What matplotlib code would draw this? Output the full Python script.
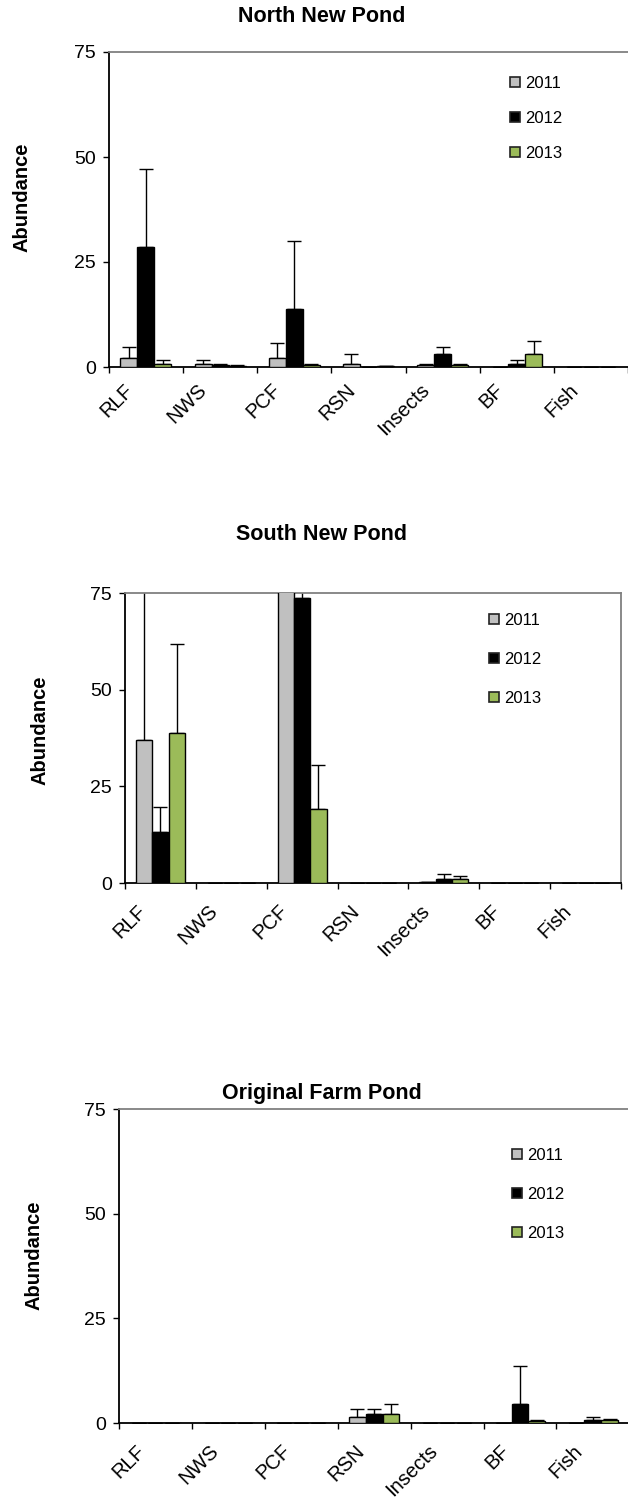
import matplotlib
matplotlib.use("Agg")
import matplotlib.pyplot as plt
import matplotlib.transforms as mtransforms
from matplotlib.patches import Patch
import numpy as np

plt.rcParams['font.family'] = ['Liberation Sans', 'DejaVu Sans']

categories = ['RLF', 'NWS', 'PCF', 'RSN', 'Insects', 'BF', 'Fish']
years = ['2011', '2012', '2013']
yticks = [0, 25, 50, 75]

# North New Pond
north_2011 = [2.1, 0.8, 2.1, 0.8, 0.5, 0.0, 0.0]
north_2011_err = [2.7, 0.9, 3.6, 2.2, 0.3, 0.0, 0.0]
north_2012 = [28.6, 0.5, 13.7, 0.0, 3.2, 0.8, 0.0]
north_2012_err = [18.6, 0.3, 16.3, 0.0, 1.6, 0.8, 0.0]
north_2013 = [0.6, 0.2, 0.5, 0.2, 0.5, 3.2, 0.0]
north_2013_err = [1.0, 0.2, 0.3, 0.1, 0.3, 3.1, 0.0]

# South New Pond
south_2011 = [37.1, 0.0, 80.0, 0.0, 0.3, 0.0, 0.0]
south_2011_err = [45.0, 0.0, 10.0, 0.0, 0.0, 0.0, 0.0]
south_2012 = [13.2, 0.0, 73.8, 0.0, 1.1, 0.0, 0.0]
south_2012_err = [6.4, 0.0, 8.0, 0.0, 1.3, 0.0, 0.0]
south_2013 = [38.9, 0.0, 19.1, 0.0, 1.1, 0.0, 0.0]
south_2013_err = [22.8, 0.0, 11.3, 0.0, 0.6, 0.0, 0.0]

# Original Farm Pond
farm_2011 = [0.0, 0.0, 0.0, 1.4, 0.0, 0.0, 0.0]
farm_2011_err = [0.0, 0.0, 0.0, 2.0, 0.0, 0.0, 0.0]
farm_2012 = [0.0, 0.0, 0.0, 2.1, 0.0, 4.5, 0.8]
farm_2012_err = [0.0, 0.0, 0.0, 1.3, 0.0, 9.1, 0.55]
farm_2013 = [0.0, 0.0, 0.0, 2.1, 0.0, 0.5, 0.8]
farm_2013_err = [0.0, 0.0, 0.0, 2.4, 0.0, 0.1, 0.2]

colors = ['#C0C0C0', '#000000', '#9BBB59']

W, H = 628, 1508
fig = plt.figure(figsize=(W / 100, H / 100), dpi=100)

panels = [
    dict(title='North New Pond', vals=[north_2011, north_2012, north_2013],
         errs=[north_2011_err, north_2012_err, north_2013_err],
         x0=108.8, x1=628.2, ytop=52, ybot=367, right=False,
         title_xy=(322, 17), ylab_xy=(22, 197), leg_xy=(510, 76),
         leg_sp=1.19, xpad=14.3, xoff=-16),
    dict(title='South New Pond', vals=[south_2011, south_2012, south_2013],
         errs=[south_2011_err, south_2012_err, south_2013_err],
         x0=125, x1=621, ytop=593, ybot=883, right=True,
         title_xy=(322, 534), ylab_xy=(40, 730), leg_xy=(489, 613),
         leg_sp=1.43, xpad=18, xoff=-17),
    dict(title='Original Farm Pond', vals=[farm_2011, farm_2012, farm_2013],
         errs=[farm_2011_err, farm_2012_err, farm_2013_err],
         x0=119, x1=629.3, ytop=1109, ybot=1423, right=False,
         title_xy=(322, 1093), ylab_xy=(34, 1255), leg_xy=(512, 1148),
         leg_sp=1.43, xpad=18, xoff=-13),
]

x = np.arange(len(categories))
bw = 0.23

for p in panels:
    ax = fig.add_axes([p['x0'] / W, 1 - p['ybot'] / H,
                       (p['x1'] - p['x0']) / W, (p['ybot'] - p['ytop']) / H])
    handles = []
    for i, (v, e) in enumerate(zip(p['vals'], p['errs'])):
        ax.bar(x + (i - 1) * bw, v, width=bw, color=colors[i],
               edgecolor='black', linewidth=1.0, zorder=3,
               yerr=[np.zeros(len(e)), e],
               error_kw=dict(ecolor='black', elinewidth=1.0, capsize=5,
                             capthick=1.0, zorder=2))
        handles.append(Patch(facecolor=colors[i], edgecolor='#222222',
                             linewidth=1.2, label=years[i]))
    ax.set_xlim(-0.5, len(categories) - 0.5)
    ax.set_ylim(0, 75)
    ax.set_yticks(yticks)
    ax.tick_params(axis='y', direction='out', length=4.3, width=1.0,
                   labelsize=14, pad=5)
    ax.set_xticks(x)
    ax.set_xticks(np.arange(len(categories) + 1) - 0.5, minor=True)
    ax.tick_params(axis='x', which='major', length=0, pad=p['xpad'])
    ax.tick_params(axis='x', which='minor', direction='out', length=4.3,
                   width=1.0)
    offset = mtransforms.ScaledTranslation(p['xoff'] / 100, 0,
                                           fig.dpi_scale_trans)
    ax.set_xticklabels(categories, rotation=45, ha='right', va='center',
                       rotation_mode='anchor', fontsize=14.5)
    for lab in ax.get_xticklabels():
        lab.set_transform(lab.get_transform() + offset)
    for s in ['left', 'bottom']:
        ax.spines[s].set_color('black')
        ax.spines[s].set_linewidth(1.3)
    ax.spines['top'].set_color('#808080')
    ax.spines['top'].set_linewidth(1.3)
    if p['right']:
        ax.spines['right'].set_color('#808080')
        ax.spines['right'].set_linewidth(1.3)
    else:
        ax.spines['right'].set_visible(False)

    fig.text(p['title_xy'][0] / W, 1 - p['title_xy'][1] / H, p['title'],
             ha='center', va='center', fontsize=15.5, fontweight='bold')
    fig.text(p['ylab_xy'][0] / W, 1 - p['ylab_xy'][1] / H, 'Abundance',
             ha='center', va='center', rotation=90, fontsize=14.5,
             fontweight='bold')
    ax.legend(handles=handles, loc='upper left',
              bbox_to_anchor=(p['leg_xy'][0] / W, 1 - p['leg_xy'][1] / H),
              bbox_transform=fig.transFigure, frameon=False, fontsize=12,
              borderpad=0, borderaxespad=0, handlelength=0.6,
              handleheight=0.6, handletextpad=0.3,
              labelspacing=p['leg_sp'])

fig.savefig('out.png', dpi=100)
